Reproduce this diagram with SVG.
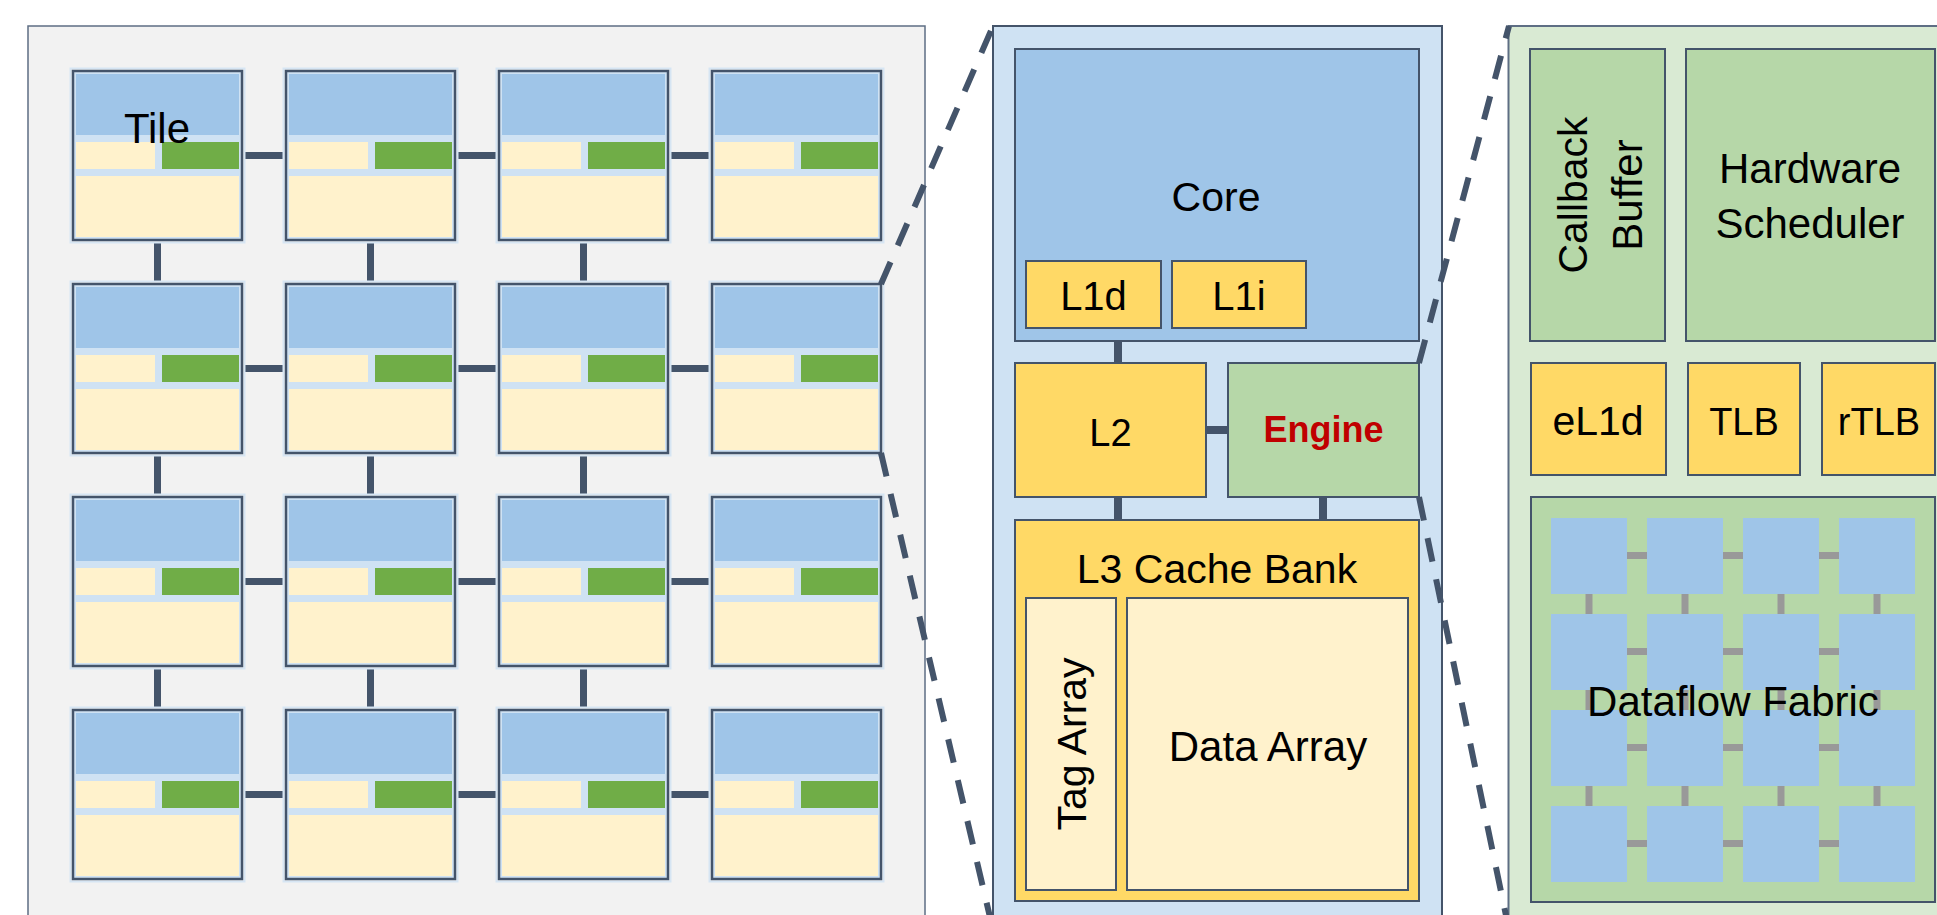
<svg xmlns="http://www.w3.org/2000/svg" xmlns:xlink="http://www.w3.org/1999/xlink" width="1937" height="915" viewBox="0 0 1937 915">
  <style>
    .panel-l { fill: #F2F2F2; stroke: #5E6E84; stroke-width: 1.5; }
    .panel-m { fill: #CFE2F3; stroke: #44546A; stroke-width: 2; }
    .panel-r { fill: #D9EAD3; stroke: #5E6E84; stroke-width: 2; }
    .blk { stroke: #44546A; stroke-width: 2; }
    .blue { fill: #9FC5E8; }
    .gold { fill: #FFD966; }
    .cream { fill: #FFF2CC; }
    .sage { fill: #B6D7A8; }
    .link { fill: #44546A; }
    .glink { fill: #999999; }
    .pe { fill: #9FC5E8; }
    .zoom { fill: none; stroke: #44546A; stroke-width: 6; stroke-dasharray: 24 18; }
    text { font-family: "Liberation Sans", Arial, sans-serif; fill: #000000; text-anchor: middle; }
    .t42 { font-size: 42px; }
    .t41 { font-size: 41px; }
    .t40 { font-size: 40px; }
    .t38 { font-size: 38px; }
    .eng { font-size: 36px; font-weight: bold; fill: #C00000; }
  </style>
  <defs>
    <!-- one mesh tile: core (blue), two small blocks, cache slice (cream) -->
    <g id="tileShape">
      <rect x="-2.5" y="-2.5" width="174" height="174" fill="none" stroke="#D6E5F3" stroke-width="2"/>
      <rect x="0" y="0" width="169" height="169" fill="#CFE2F3" stroke="#44546A" stroke-width="2.5"/>
      <rect x="3" y="3" width="163" height="61" class="blue"/>
      <rect x="3" y="71" width="79" height="27" class="cream"/>
      <rect x="89" y="71" width="77" height="27" fill="#70AD47"/>
      <rect x="3" y="105" width="163" height="61" class="cream"/>
    </g>
  </defs>

  <!-- left: 4x4 tile mesh -->
  <g id="mesh-panel">
    <rect class="panel-l" x="28" y="26" width="897" height="930"/>
  </g>

  <g id="mesh-links">
    <!-- horizontal links, one row per tile row -->
    <rect class="link" x="244" y="152" width="40" height="7"/>
    <rect class="link" x="457" y="152" width="40" height="7"/>
    <rect class="link" x="670" y="152" width="40" height="7"/>
    <rect class="link" x="244" y="365" width="40" height="7"/>
    <rect class="link" x="457" y="365" width="40" height="7"/>
    <rect class="link" x="670" y="365" width="40" height="7"/>
    <rect class="link" x="244" y="578" width="40" height="7"/>
    <rect class="link" x="457" y="578" width="40" height="7"/>
    <rect class="link" x="670" y="578" width="40" height="7"/>
    <rect class="link" x="244" y="791" width="40" height="7"/>
    <rect class="link" x="457" y="791" width="40" height="7"/>
    <rect class="link" x="670" y="791" width="40" height="7"/>
    <!-- vertical links (first three columns) -->
    <rect class="link" x="154" y="243" width="7" height="38"/>
    <rect class="link" x="367" y="243" width="7" height="38"/>
    <rect class="link" x="580" y="243" width="7" height="38"/>
    <rect class="link" x="154" y="456" width="7" height="38"/>
    <rect class="link" x="367" y="456" width="7" height="38"/>
    <rect class="link" x="580" y="456" width="7" height="38"/>
    <rect class="link" x="154" y="669" width="7" height="38"/>
    <rect class="link" x="367" y="669" width="7" height="38"/>
    <rect class="link" x="580" y="669" width="7" height="38"/>
  </g>

  <g id="tile-r1c1"><use xlink:href="#tileShape" x="73" y="71"/><text class="t42" x="157" y="143">Tile</text></g>
  <g id="tile-r1c2"><use xlink:href="#tileShape" x="286" y="71"/></g>
  <g id="tile-r1c3"><use xlink:href="#tileShape" x="499" y="71"/></g>
  <g id="tile-r1c4"><use xlink:href="#tileShape" x="712" y="71"/></g>
  <g id="tile-r2c1"><use xlink:href="#tileShape" x="73" y="284"/></g>
  <g id="tile-r2c2"><use xlink:href="#tileShape" x="286" y="284"/></g>
  <g id="tile-r2c3"><use xlink:href="#tileShape" x="499" y="284"/></g>
  <g id="tile-r2c4"><use xlink:href="#tileShape" x="712" y="284"/></g>
  <g id="tile-r3c1"><use xlink:href="#tileShape" x="73" y="497"/></g>
  <g id="tile-r3c2"><use xlink:href="#tileShape" x="286" y="497"/></g>
  <g id="tile-r3c3"><use xlink:href="#tileShape" x="499" y="497"/></g>
  <g id="tile-r3c4"><use xlink:href="#tileShape" x="712" y="497"/></g>
  <g id="tile-r4c1"><use xlink:href="#tileShape" x="73" y="710"/></g>
  <g id="tile-r4c2"><use xlink:href="#tileShape" x="286" y="710"/></g>
  <g id="tile-r4c3"><use xlink:href="#tileShape" x="499" y="710"/></g>
  <g id="tile-r4c4"><use xlink:href="#tileShape" x="712" y="710"/></g>

  <!-- middle: single tile detail -->
  <g id="tile-panel">
    <rect class="panel-m" x="993" y="26" width="449" height="930"/>
  </g>

  <g id="tile-links">
    <rect class="link" x="1114" y="341" width="8" height="22"/>
    <rect class="link" x="1206" y="426" width="22" height="8"/>
    <rect class="link" x="1114" y="497" width="8" height="23"/>
    <rect class="link" x="1319" y="497" width="8" height="23"/>
  </g>

  <g id="core">
    <rect class="blk blue" x="1015" y="49" width="404" height="292"/>
    <text class="t41" x="1216" y="211">Core</text>
  </g>
  <g id="l1d">
    <rect class="blk gold" x="1026" y="261" width="135" height="67"/>
    <text class="t40" x="1093.5" y="310">L1d</text>
  </g>
  <g id="l1i">
    <rect class="blk gold" x="1172" y="261" width="134" height="67"/>
    <text class="t40" x="1239" y="310">L1i</text>
  </g>
  <g id="l2">
    <rect class="blk gold" x="1015" y="363" width="191" height="134"/>
    <text class="t38" x="1110.5" y="446">L2</text>
  </g>
  <g id="engine">
    <rect class="blk sage" x="1228" y="363" width="191" height="134"/>
    <text class="eng" x="1323.5" y="442">Engine</text>
  </g>
  <g id="l3">
    <rect class="blk gold" x="1015" y="520" width="404" height="381"/>
    <text class="t41" x="1217" y="583">L3 Cache Bank</text>
  </g>
  <g id="tag-array">
    <rect class="blk cream" x="1026" y="598" width="90" height="292"/>
    <text class="t41" transform="translate(1086,744) rotate(-90)" x="0" y="0">Tag Array</text>
  </g>
  <g id="data-array">
    <rect class="blk cream" x="1127" y="598" width="281" height="292"/>
    <text class="t42" x="1268" y="761">Data Array</text>
  </g>

  <!-- right: engine detail -->
  <g id="engine-panel">
    <rect class="panel-r" x="1508.5" y="26" width="460" height="930"/>
  </g>

  <g id="callback-buffer">
    <rect class="blk sage" x="1530" y="49" width="135" height="292"/>
    <text class="t41" transform="translate(1587,195) rotate(-90)" x="0" y="0">Callback</text>
    <text class="t42" transform="translate(1642,195) rotate(-90)" x="0" y="0">Buffer</text>
  </g>
  <g id="hw-scheduler">
    <rect class="blk sage" x="1686" y="49" width="249" height="292"/>
    <text class="t42" x="1810" y="183">Hardware</text>
    <text class="t42" x="1810" y="238">Scheduler</text>
  </g>
  <g id="el1d">
    <rect class="blk gold" x="1531" y="363" width="135" height="112"/>
    <text class="t41" x="1598" y="435">eL1d</text>
  </g>
  <g id="tlb">
    <rect class="blk gold" x="1688" y="363" width="112" height="112"/>
    <text class="t38" x="1744" y="435">TLB</text>
  </g>
  <g id="rtlb">
    <rect class="blk gold" x="1822" y="363" width="113" height="112"/>
    <text class="t38" x="1879" y="435">rTLB</text>
  </g>

  <g id="dataflow-fabric">
    <rect class="blk sage" x="1531" y="497" width="404" height="405"/>
    <!-- 4x4 processing elements -->
    <rect class="pe" x="1551" y="518" width="76" height="76"/>
    <rect class="pe" x="1647" y="518" width="76" height="76"/>
    <rect class="pe" x="1743" y="518" width="76" height="76"/>
    <rect class="pe" x="1839" y="518" width="76" height="76"/>
    <rect class="pe" x="1551" y="614" width="76" height="76"/>
    <rect class="pe" x="1647" y="614" width="76" height="76"/>
    <rect class="pe" x="1743" y="614" width="76" height="76"/>
    <rect class="pe" x="1839" y="614" width="76" height="76"/>
    <rect class="pe" x="1551" y="710" width="76" height="76"/>
    <rect class="pe" x="1647" y="710" width="76" height="76"/>
    <rect class="pe" x="1743" y="710" width="76" height="76"/>
    <rect class="pe" x="1839" y="710" width="76" height="76"/>
    <rect class="pe" x="1551" y="806" width="76" height="76"/>
    <rect class="pe" x="1647" y="806" width="76" height="76"/>
    <rect class="pe" x="1743" y="806" width="76" height="76"/>
    <rect class="pe" x="1839" y="806" width="76" height="76"/>
  </g>

  <g id="fabric-links">
    <rect class="glink" x="1627" y="552" width="20" height="7"/>
    <rect class="glink" x="1723" y="552" width="20" height="7"/>
    <rect class="glink" x="1819" y="552" width="20" height="7"/>
    <rect class="glink" x="1627" y="648" width="20" height="7"/>
    <rect class="glink" x="1723" y="648" width="20" height="7"/>
    <rect class="glink" x="1819" y="648" width="20" height="7"/>
    <rect class="glink" x="1627" y="744" width="20" height="7"/>
    <rect class="glink" x="1723" y="744" width="20" height="7"/>
    <rect class="glink" x="1819" y="744" width="20" height="7"/>
    <rect class="glink" x="1627" y="840" width="20" height="7"/>
    <rect class="glink" x="1723" y="840" width="20" height="7"/>
    <rect class="glink" x="1819" y="840" width="20" height="7"/>
    <rect class="glink" x="1585.5" y="594" width="7" height="20"/>
    <rect class="glink" x="1681.5" y="594" width="7" height="20"/>
    <rect class="glink" x="1777.5" y="594" width="7" height="20"/>
    <rect class="glink" x="1873.5" y="594" width="7" height="20"/>
    <rect class="glink" x="1585.5" y="690" width="7" height="20"/>
    <rect class="glink" x="1681.5" y="690" width="7" height="20"/>
    <rect class="glink" x="1777.5" y="690" width="7" height="20"/>
    <rect class="glink" x="1873.5" y="690" width="7" height="20"/>
    <rect class="glink" x="1585.5" y="786" width="7" height="20"/>
    <rect class="glink" x="1681.5" y="786" width="7" height="20"/>
    <rect class="glink" x="1777.5" y="786" width="7" height="20"/>
    <rect class="glink" x="1873.5" y="786" width="7" height="20"/>
  </g>
  <g id="fabric-label">
    <text class="t42" x="1733" y="716">Dataflow Fabric</text>
  </g>

  <!-- dashed zoom-in guides -->
  <g id="zoom-guides">
    <line class="zoom" x1="881" y1="284" x2="993" y2="26"/>
    <line class="zoom" x1="881" y1="453" x2="993" y2="930"/>
    <line class="zoom" x1="1419" y1="363" x2="1509" y2="26"/>
    <line class="zoom" x1="1419" y1="497" x2="1509" y2="930"/>
  </g>
</svg>
